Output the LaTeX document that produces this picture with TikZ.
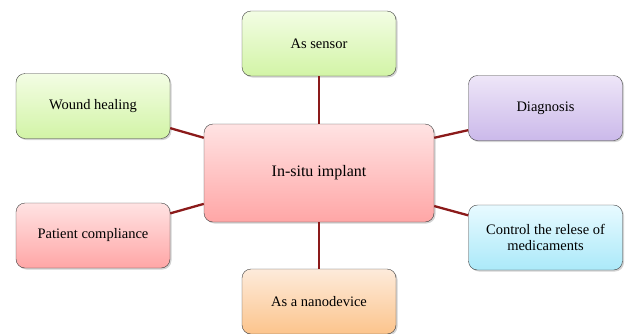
\documentclass[tikz,border=0pt]{standalone}
\usepackage{fontspec}
\setmainfont{Liberation Serif}
\usepackage{xcolor}
\usetikzlibrary{shadows, positioning}
\definecolor{linkred}{HTML}{8B1A1A}
\definecolor{greentop}{HTML}{F3FDE4}
\definecolor{greenbot}{HTML}{D2F4A6}
\definecolor{purpletop}{HTML}{EEE6F8}
\definecolor{purplebot}{HTML}{CBB9EA}
\definecolor{pinktop}{HTML}{FFE3E3}
\definecolor{pinkbot}{HTML}{FFA6A6}
\definecolor{bluetop}{HTML}{E8FAFF}
\definecolor{bluebot}{HTML}{ABE9F9}
\definecolor{orangetop}{HTML}{FDEBDB}
\definecolor{orangebot}{HTML}{FCC48C}

\begin{document}
\begin{tikzpicture}[x=1pt, y=-1pt,
    box/.style={draw=black!75, rounded corners=9pt, minimum width=154pt, minimum height=65pt,
      align=center, font=\fontsize{14.5}{15.5}\selectfont, drop shadow={opacity=0.35, shadow xshift=1.5pt, shadow yshift=-1.5pt}},
    link/.style={draw=linkred, line width=2.3pt}]
          \useasboundingbox (0,0) rectangle (625,333);
          \clip (0,0) rectangle (625,333);
          \node[box, top color=pinktop, bottom color=pinkbot, minimum width=230pt, minimum height=98pt,
            font=\fontsize{16}{18}\selectfont] (implant) at (319,173) {In-situ implant};
          \node[box, top color=greentop, bottom color=greenbot] (sensor) at (319,43.5) {As sensor};
          \node[box, top color=greentop, bottom color=greenbot] (wound) at (93,106) {Wound healing};
          \node[box, top color=purpletop, bottom color=purplebot] (diagnosis) at (545.5,108) {Diagnosis};
          \node[box, top color=pinktop, bottom color=pinkbot] (patient) at (93,235.5) {Patient compliance};
          \node[box, top color=bluetop, bottom color=bluebot] (release) at (545.5,237.5) {Control the relese of\\medicaments};
          \node[box, top color=orangetop, bottom color=orangebot] (nano) at (319,301.5) {As a nanodevice};
          % Links to the implant
          \draw[link] (implant.north) -- (sensor.south);
          \draw[link] (implant.south) -- (nano.north);
          \draw[link] (implant.163) -- (wound.-16);
          \draw[link] (implant.17) -- (diagnosis.196);
          \draw[link] (implant.195) -- (patient.16);
          \draw[link] (implant.-16) -- (release.164);
        \end{tikzpicture}
\end{document}
